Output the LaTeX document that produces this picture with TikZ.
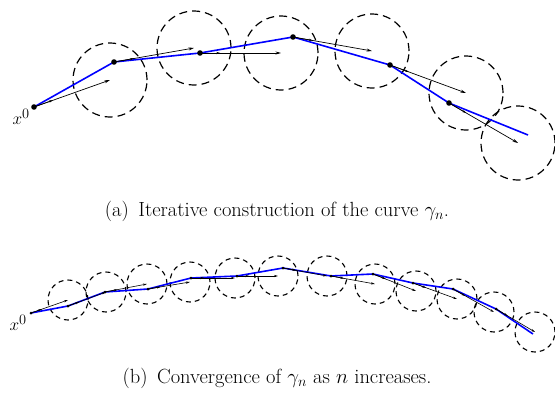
\documentclass[tikz,border=0pt]{standalone}
\usetikzlibrary{arrows.meta,calc}
\begin{document}
\begin{tikzpicture}[x={(1pt,0)},y={(0,-1pt)},
  curve/.style={blue,line width=1.6pt},
  vec/.style={black,line width=0.7pt,-{Stealth[length=5.5pt,width=3pt]}},
  vecs/.style={black,line width=0.6pt,-{Stealth[length=4pt,width=2.2pt]}},
  bigc/.style={circle,draw,line width=1.2pt,dash pattern=on 8pt off 5pt,minimum size=74pt,inner sep=0pt},
  smallc/.style={circle,draw,line width=1.1pt,dash pattern=on 5pt off 4pt,minimum size=40pt,inner sep=0pt},
  dotb/.style={black,radius=2.8pt},
  dots/.style={black,radius=1.5pt},
  captext/.style={font=\fontsize{20.5}{24}\selectfont,anchor=center},
  lab/.style={font=\fontsize{19}{22}\selectfont}]
\useasboundingbox (0,0) rectangle (555,399);
% ---------- top figure ----------
\coordinate (a0) at (34,107);
\coordinate (a1) at (114,62);
\coordinate (a2) at (200,53);
\coordinate (a3) at (293,37);
\coordinate (a4) at (390,65);
\coordinate (a5) at (449,103);
\coordinate (a6) at (528,135);
\node[bigc] (ca1) at (110,80) {};
\node[bigc] (ca2) at (194,48) {};
\node[bigc] (ca3) at (281,53) {};
\node[bigc] (ca4) at (372,51) {};
\node[bigc] (ca5) at (466,93) {};
\node[bigc] (ca6) at (518,143) {};
\draw[curve] (a0) -- (a1) -- (a2) -- (a3) -- (a4) -- (a5) -- (a6);
\foreach \p/\c in {a0/ca1,a1/ca2,a2/ca3,a3/ca4,a4/ca5,a5/ca6}{
  \draw[vec] (\p) -- (\c.center);
  \draw[vecs] (\p) -- ($(\p)!0.25!(\c.center)$);
}
\foreach \p in {a0,a1,a2,a3,a4,a5}{\fill[dotb] (\p) circle;}
\node[lab,anchor=north east,inner sep=1pt] (xa) at ([xshift=-3pt,yshift=-1pt]a0) {$x^0$};
\node[captext] (capa) at (277,211) {(a)\, Iterative construction of the curve $\gamma_n$.};
% ---------- bottom figure ----------
\coordinate (b0) at (31,313);
\coordinate (b1) at (68,306);
\coordinate (b2) at (105,292);
\coordinate (b3) at (148,289);
\coordinate (b4) at (191,278);
\coordinate (b5) at (237,276);
\coordinate (b6) at (283,268);
\coordinate (b7) at (331,276);
\coordinate (b8) at (373,274);
\coordinate (b9) at (413,283);
\coordinate (b10) at (453,289);
\coordinate (b11) at (496,309);
\coordinate (b12) at (533,334);
\node[smallc] (cb1) at (68,300) {};
\node[smallc] (cb2) at (106,292) {};
\node[smallc] (cb3) at (147,284) {};
\node[smallc] (cb4) at (190,282) {};
\node[smallc] (cb5) at (235,278) {};
\node[smallc] (cb6) at (278,276) {};
\node[smallc] (cb7) at (327,276) {};
\node[smallc] (cb8) at (375,284) {};
\node[smallc] (cb9) at (416,291) {};
\node[smallc] (cb10) at (457,299) {};
\node[smallc] (cb11) at (494,312) {};
\node[smallc] (cb12) at (535,332) {};
\draw[curve] (b0) -- (b1) -- (b2) -- (b3) -- (b4) -- (b5) -- (b6) -- (b7) -- (b8) -- (b9) -- (b10) -- (b11) -- (b12);
\foreach \p/\c in {b0/cb1,b1/cb2,b2/cb3,b3/cb4,b4/cb5,b5/cb6,b6/cb7,b7/cb8,b8/cb9,b9/cb10,b10/cb11,b11/cb12}{
  \draw[vecs] (\p) -- (\c.center);
  \draw[vecs] (\p) -- ($(\p)!0.3!(\c.center)$);
}
\foreach \p in {b0,b1,b2,b3,b4,b5,b6,b7,b8,b9,b10,b11}{\fill[dots] (\p) circle;}
\node[lab,anchor=north east,inner sep=1pt] (xb) at ([xshift=-3pt,yshift=-1pt]b0) {$x^0$};
\node[captext] (capb) at (277,378) {(b)\, Convergence of $\gamma_n$ as $n$ increases.};
\end{tikzpicture}
\end{document}
